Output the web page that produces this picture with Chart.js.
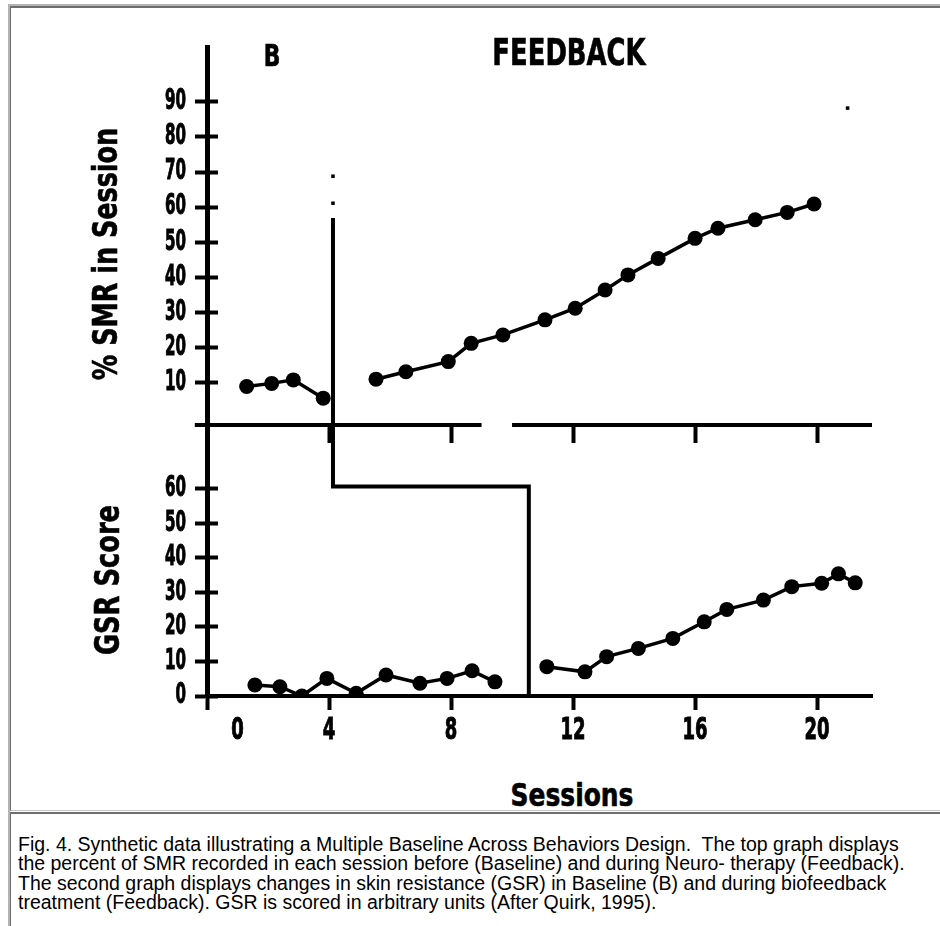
<!DOCTYPE html>
<html>
<head>
<meta charset="utf-8">
<title>Multiple Baseline Across Behaviors</title>
<script src="https://cdn.jsdelivr.net/npm/chart.js@4.4.1/dist/chart.umd.min.js"></script>
<style>
  body { margin: 0; background: #fff; width: 940px; height: 926px; overflow: hidden; position: relative;
         font-family: "Liberation Sans", Arial, sans-serif; }
  .tbl { position: absolute; left: 8px; top: 4px; width: 1000px; height: 1000px;
         border-top: 2px solid #b4b4b4; border-left: 2px solid #b4b4b4; }
  .cell1 { position: absolute; left: 10px; top: 6px; width: 1000px; height: 802px;
           border-top: 2px solid #6e6e6e; border-left: 1px solid #6e6e6e; border-bottom: 1px solid #c4c4c4; }
  .cell2 { position: absolute; left: 10px; top: 812px; width: 1000px; height: 300px;
           border-top: 2px solid #6e6e6e; border-left: 1px solid #6e6e6e; }
  canvas { position: absolute; left: 0; }
  .lbl { position: absolute; font-family: "Liberation Sans Narrow", "DejaVu Sans Condensed", sans-serif;
         font-weight: bold; color: #000; white-space: nowrap; line-height: 1; -webkit-text-stroke: 0.6px #000; }
  .caption { position: absolute; left: 18px; top: 835px; font-size: 19.5px; line-height: 19.4px; color: #000; white-space: nowrap; }
</style>
</head>
<body>
<div class="tbl"></div>
<div class="cell1"></div>
<div class="cell2"></div>
<canvas id="smrChart" width="940" height="445" style="top:0"></canvas>
<canvas id="gsrChart" width="940" height="356" style="top:400px"></canvas>
<div class="caption">Fig. 4. Synthetic data illustrating a Multiple Baseline Across Behaviors Design.&nbsp; The top graph displays<br>the percent of SMR recorded in each session before (Baseline) and during Neuro- therapy (Feedback).<br>The second graph displays changes in skin resistance (GSR) in Baseline (B) and during biofeedback<br>treatment (Feedback). GSR is scored in arbitrary units (After Quirk, 1995).</div>
<script>
// top graph: % SMR per session
const smrBaseSessions = [1.3, 2.12, 2.83, 3.81];
const smrBaseValues = [8.9, 9.8, 10.8, 5.6];
const smrFeedSessions = [5.54, 6.52, 7.91, 8.66, 9.7, 11.08, 12.07, 13.05, 13.8, 14.79, 16.0, 16.75, 17.97, 19.02, 19.9];
const smrFeedValues = [11.0, 13.1, 16.0, 21.2, 23.6, 27.9, 31.2, 36.4, 40.7, 45.4, 51.1, 54.0, 56.4, 58.5, 60.9];
const smrTicks = [10, 20, 30, 40, 50, 60, 70, 80, 90];
const smrMarkSessions = [4.13, 4.13, 21.0];
const smrMarkValues = [68.8, 61.1, 88.2];

// bottom graph: GSR score per session
const gsrBaseSessions = [1.57, 2.39, 3.11, 3.93, 4.89, 5.87, 6.98, 7.87, 8.69, 9.44];
const gsrBaseValues = [3.2, 2.7, 0, 5.1, 0.8, 6.1, 3.7, 5.1, 7.3, 4.1];
const gsrFeedSessions = [11.14, 12.39, 13.1, 14.14, 15.27, 16.3, 17.04, 18.24, 19.17, 20.15, 20.7, 21.25];
const gsrFeedValues = [8.5, 7.0, 11.4, 13.8, 16.7, 21.5, 25.1, 27.8, 31.7, 32.7, 35.4, 32.8];
const gsrTicks = [0, 10, 20, 30, 40, 50, 60];

// session axis
const sessionTicks = [0, 4, 8, 12, 16, 20];
const sessionLabelValues = [1, 4, 8, 12, 16, 20];
const sessionLabels = ['0', '4', '8', '12', '16', '20'];
const smrSessionTicks = [4, 8, 12, 16, 20];
const smrAxisSegments = [[-0.4, 9.0], [10.0, 21.8]];

// phase change lines
const phaseSessionSmr = 4.13;
const phaseSessionGsr = 10.55;
const smrPhaseTop = 56.9;
const gsrStepLevel = 60.7;

const SESSION_MIN = 0, SESSION_MAX = 21.8;
const SMR_MIN = -2.05, SMR_MAX = 105.6;
const GSR_MIN = 0, GSR_MAX = 78.55;

const FONT = '"Liberation Sans Narrow", "DejaVu Sans Condensed", sans-serif';

function pts(xs, ys) {
  return xs.map((x, i) => ({x: x, y: ys[i]}));
}

function series(xs, ys) {
  return {data: pts(xs, ys), showLine: true, borderColor: '#000', borderWidth: 3.5,
          pointRadius: 7.5, pointBackgroundColor: '#000', pointBorderWidth: 0, tension: 0};
}

function rule(data, width) {
  return {data: data, showLine: true, borderColor: '#000', borderWidth: width || 4,
          pointRadius: 0, clip: false, tension: 0};
}

// tick labels in the figure are tall and very narrow, so they are squeezed
// horizontally; positions still come from the chart's own scales
function squeezedLabels(axes) {
  return {
    id: 'squeezedLabels',
    afterDraw(chart) {
      const ctx = chart.ctx;
      axes.forEach(a => {
        const scale = chart.scales[a.id];
        ctx.save();
        ctx.font = 'bold ' + a.size + 'px ' + FONT;
        ctx.fillStyle = '#000';
        ctx.strokeStyle = '#000';
        ctx.lineWidth = 1;
        ctx.textBaseline = 'middle';
        a.values.forEach((v, i) => {
          const text = a.labels ? a.labels[i] : String(v);
          const sx = a.charWidth * text.length / ctx.measureText(text).width;
          const p = scale.getPixelForValue(v);
          ctx.save();
          if (scale.isHorizontal()) {
            ctx.translate(p, scale.top + a.offset);
            ctx.textAlign = 'center';
          } else {
            ctx.translate(scale.right - a.offset, p);
            ctx.textAlign = 'right';
          }
          ctx.scale(sx, 1);
          ctx.fillText(text, 0, 0);
          ctx.strokeText(text, 0, 0);
          ctx.restore();
        });
        ctx.restore();
      });
    }
  };
}

function yScales(min, max, ticks) {
  const setTicks = scale => { scale.ticks = ticks.map(v => ({value: v})); };
  return {
    y: {
      type: 'linear', min: min, max: max, position: 'left',
      afterBuildTicks: setTicks,
      afterFit: scale => { scale.width = 60; },
      border: {display: true, color: '#000', width: 5},
      grid: {drawOnChartArea: false, tickLength: 12, tickWidth: 4, tickColor: '#000'},
      ticks: {display: false}
    },
    yIn: {
      axis: 'y', type: 'linear', min: min, max: max, position: {x: 0.36},
      afterBuildTicks: setTicks,
      border: {display: false},
      grid: {drawOnChartArea: false, tickLength: 11, tickWidth: 4, tickColor: '#000'},
      ticks: {display: false}
    }
  };
}

const baseOptions = {
  responsive: false,
  animation: false,
  events: [],
  plugins: {legend: {display: false}, tooltip: {enabled: false}}
};

new Chart(document.getElementById('smrChart'), {
  type: 'scatter',
  data: {
    datasets: [
      series(smrBaseSessions, smrBaseValues),
      series(smrFeedSessions, smrFeedValues),
      rule([{x: phaseSessionSmr, y: smrPhaseTop}, {x: phaseSessionSmr, y: SMR_MIN}]),
      rule(smrAxisSegments[0].map(x => ({x: x, y: SMR_MIN}))),
      rule(smrAxisSegments[1].map(x => ({x: x, y: SMR_MIN}))),
      {data: pts(smrMarkSessions, smrMarkValues), showLine: false, pointStyle: 'rect',
       pointRadius: 2.5, pointBackgroundColor: '#000', pointBorderWidth: 0}
    ]
  },
  options: Object.assign({}, baseOptions, {
    layout: {padding: {left: 147, top: 47, right: 68, bottom: 0}},
    scales: Object.assign({
      x: {
        type: 'linear', min: SESSION_MIN, max: SESSION_MAX,
        afterBuildTicks: scale => { scale.ticks = smrSessionTicks.map(v => ({value: v})); },
        afterFit: scale => { scale.height = 20; },
        border: {display: false},
        grid: {drawOnChartArea: false, tickLength: 18, tickWidth: 4, tickColor: '#000'},
        ticks: {display: false}
      }
    }, yScales(SMR_MIN, SMR_MAX, smrTicks))
  }),
  plugins: [squeezedLabels([
    {id: 'y', values: smrTicks, size: 28, charWidth: 10.5, offset: 21}
  ])]
});

new Chart(document.getElementById('gsrChart'), {
  type: 'scatter',
  data: {
    datasets: [
      series(gsrBaseSessions, gsrBaseValues),
      series(gsrFeedSessions, gsrFeedValues),
      rule([
        {x: phaseSessionSmr, y: GSR_MAX},
        {x: phaseSessionSmr, y: gsrStepLevel},
        {x: phaseSessionGsr, y: gsrStepLevel},
        {x: phaseSessionGsr, y: GSR_MIN}
      ])
    ]
  },
  options: Object.assign({}, baseOptions, {
    layout: {padding: {left: 147, top: 25, right: 68, bottom: 0}},
    scales: Object.assign({
      x: {
        type: 'linear', min: SESSION_MIN, max: SESSION_MAX,
        afterBuildTicks: scale => { scale.ticks = sessionTicks.map(v => ({value: v})); },
        afterFit: scale => { scale.height = 60; },
        border: {display: true, color: '#000', width: 4},
        grid: {drawOnChartArea: false, tickLength: 14, tickWidth: 4, tickColor: '#000'},
        ticks: {display: false}
      }
    }, yScales(GSR_MIN, GSR_MAX, gsrTicks))
  }),
  plugins: [squeezedLabels([
    {id: 'y', values: gsrTicks, size: 28, charWidth: 10.5, offset: 21},
    {id: 'x', values: sessionLabelValues, labels: sessionLabels, size: 31, charWidth: 12.5, offset: 35}
  ])]
});

// headings and axis titles, squeezed to the width they have in the figure
const textLabels = [
  {text: 'B', cx: 271.5, cy: 56, size: 30, len: 17},
  {text: 'FEEDBACK', cx: 568.5, cy: 51.5, size: 37, len: 153},
  {text: '% SMR in Session', cx: 105, cy: 254, size: 33, len: 252, rot: true},
  {text: 'GSR Score', cx: 107, cy: 580, size: 33, len: 150, rot: true},
  {text: 'Sessions', cx: 571.5, cy: 795, size: 32, len: 123}
];
textLabels.forEach(l => {
  const el = document.createElement('div');
  el.className = 'lbl';
  el.textContent = l.text;
  el.style.fontSize = l.size + 'px';
  el.style.left = l.cx + 'px';
  el.style.top = l.cy + 'px';
  document.body.appendChild(el);
  const sx = l.len / el.offsetWidth;
  el.style.transform = 'translate(-50%, -50%)' + (l.rot ? ' rotate(-90deg)' : '') + ' scaleX(' + sx.toFixed(3) + ')';
});
</script>
</body>
</html>
